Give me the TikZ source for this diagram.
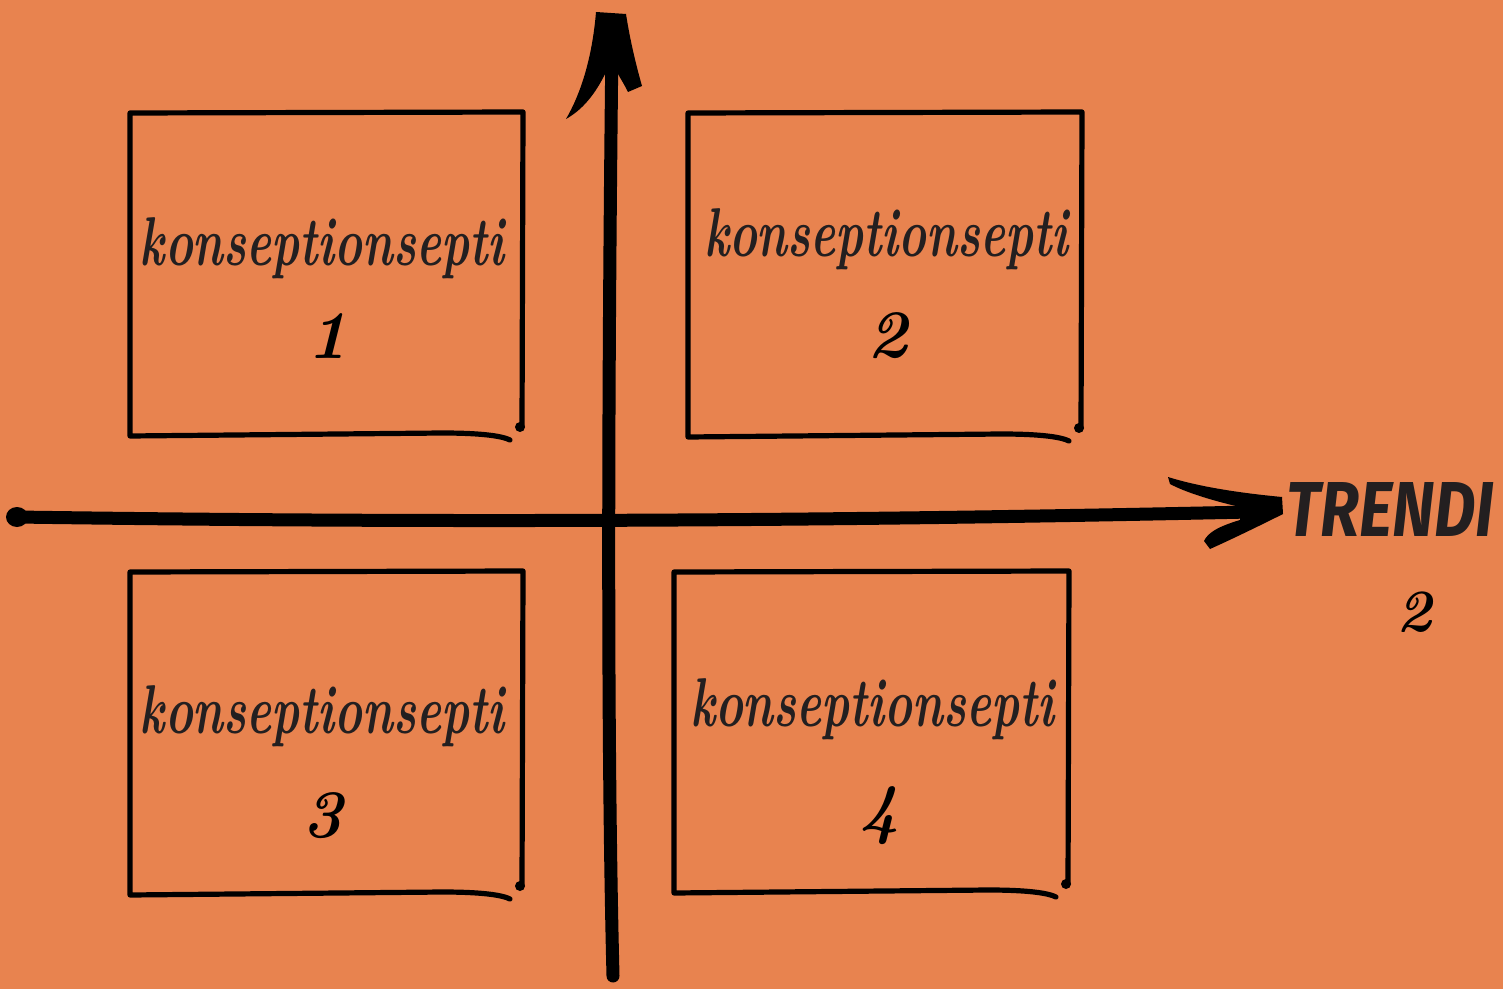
\documentclass[tikz,border=0pt]{standalone}
\usepackage{fontspec}
\newfontfamily\trendfont{Fira Sans}
\definecolor{bgorange}{HTML}{E8834F}
\definecolor{ink}{HTML}{231F20}
\tikzset{
  boxline/.style={line width=2.6pt, line cap=round, line join=round, black},
  axisline/.style={line width=6.5pt, line cap=round, black},
  conceptlabel/.style={anchor=base, inner sep=0pt, text=ink},
  numlabel/.style={inner sep=0pt, text=black, font=\fontsize{34}{34}\selectfont\bfseries\itshape},
}
% hand-drawn frame: left, top, right, bottom (pixel-like units)
\newcommand{\sketchframe}[4]{%
  \draw[boxline] ({#3},{#4-9}) -- ({#3+1},{#2}) -- ({#1},{#2+1}) -- ({#1},{#4})
     -- ({#3-80},{#4-3}) .. controls ({#3-40},{#4-3}) and ({#3-20},{#4}) .. ({#3-12},{#4+4});
  \fill ({#3-2},{#4-9}) circle (5);
}
\newcommand{\concepttext}{\resizebox{182pt}{24pt}{\bfseries\itshape konseptionsepti}}
\begin{document}
\begin{tikzpicture}[x=0.5pt,y=-0.5pt]
  \fill[bgorange] (0,0) rectangle (1503,989);
  \useasboundingbox (0,0) rectangle (1503,989);

  % quadrant frames
  \sketchframe{130}{112}{522}{436}
  \sketchframe{688}{112}{1081}{437}
  \sketchframe{130}{571}{522}{895}
  \sketchframe{674}{571}{1068}{893}

  % texts in the frames
  \node[conceptlabel] (t1) at (322,266) {\concepttext};
  \node[numlabel] (n1) at (328,336) {1};
  \node[conceptlabel] (t2) at (886,257) {\concepttext};
  \node[numlabel] (n2) at (888,336) {2};
  \node[conceptlabel] (t3) at (322,733) {\concepttext};
  \node[numlabel] (n3) at (323,816) {3};
  \node[conceptlabel] (t4) at (872,726) {\concepttext};
  \node[numlabel] (n4) at (880,816) {4};

  % axis label
  \node[anchor=base west, inner sep=0pt, text=ink] (trend) at (1286,536)
     {\resizebox{104pt}{27pt}{\trendfont\bfseries\itshape TRENDI}};
  \node[numlabel, font=\fontsize{30}{30}\selectfont\bfseries\itshape] (tn) at (1414,612) {2};

  % axes
  \coordinate (xs) at (16,517);
  \coordinate (xe) at (1250,512);
  \coordinate (ys) at (613,976);
  \coordinate (ye) at (612,40);
  \draw[axisline] (xs) .. controls (300,521) and (700,524) .. (xe);
  \draw[axisline] (ys) .. controls (606,700) and (609,300) .. (ye);
  \fill[black] (17,517) ellipse [x radius=11, y radius=10];

  % horizontal arrow head
  \fill[black] (1168,477) .. controls (1200,487) and (1240,493) .. (1282,497)
     -- (1283,514) .. controls (1255,528) and (1230,540) .. (1210,549)
     -- (1204,541) .. controls (1208,532) and (1220,526) .. (1240,520)
     -- (1240,507) .. controls (1210,500) and (1185,492) .. (1170,484) -- cycle;

  % vertical arrow head
  \fill[black] (596,12) -- (626,14) .. controls (630,40) and (636,65) .. (642,86)
     -- (628,92) .. controls (622,80) and (618,75) .. (616,70)
     -- (606,72) .. controls (595,95) and (582,110) .. (566,119)
     .. controls (580,95) and (592,60) .. (596,12) -- cycle;
\end{tikzpicture}
\end{document}
